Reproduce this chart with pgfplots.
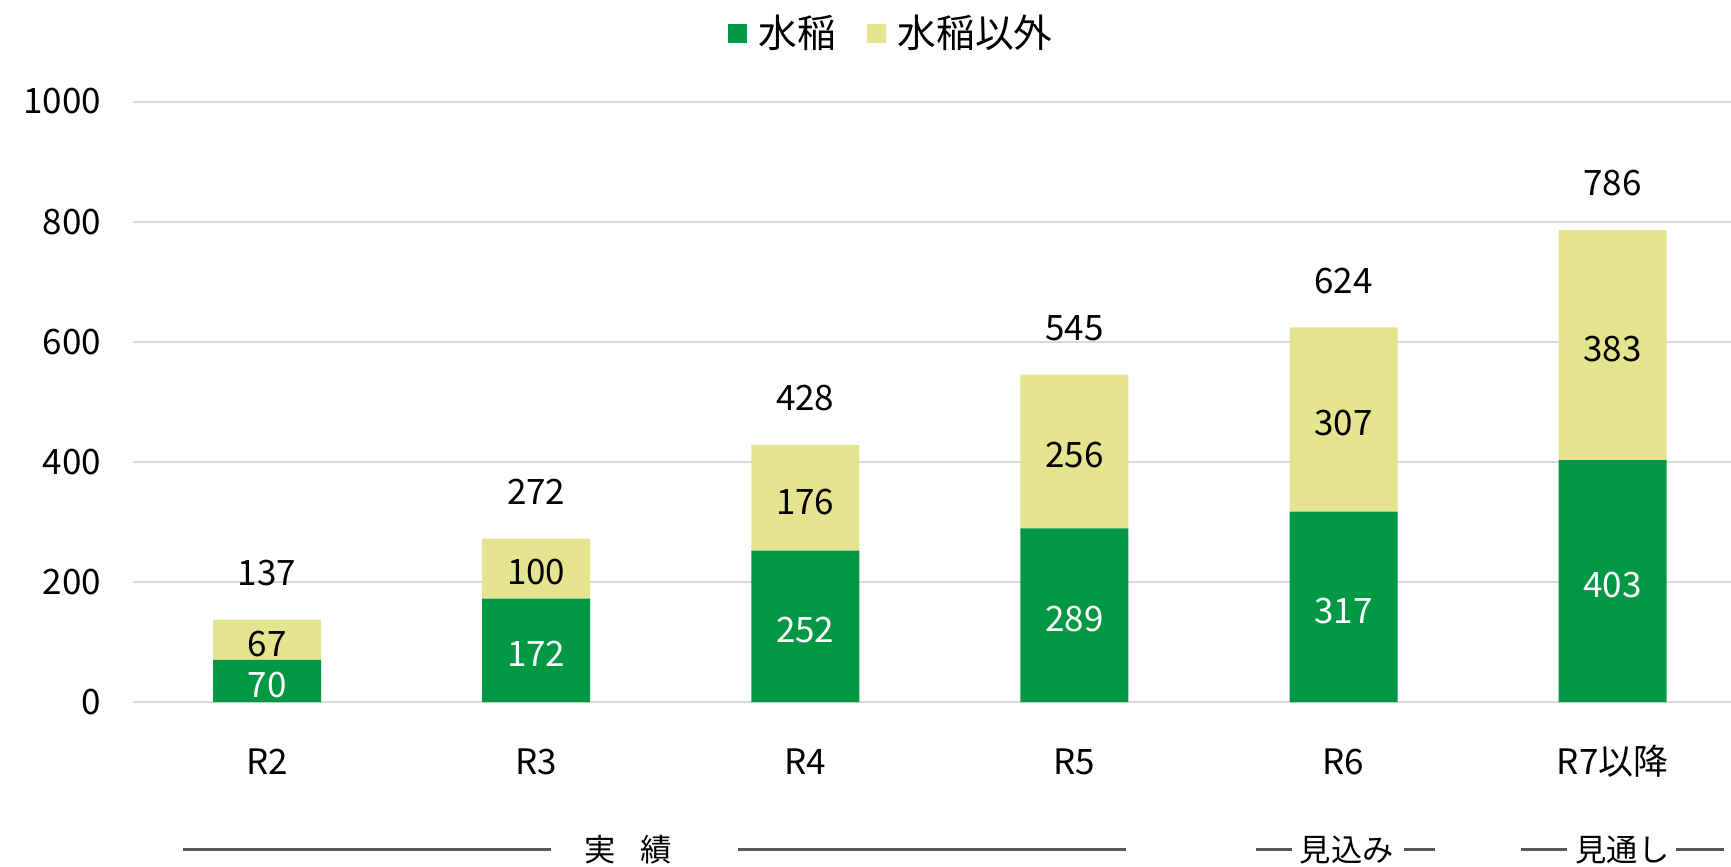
\documentclass[border=0pt]{standalone}
\usepackage{fontspec}
\setmainfont{Noto Sans CJK JP}
\usepackage{pgfplots}
\usepackage{pgfplotstable}
\pgfplotsset{compat=1.18}
\usetikzlibrary{calc}

\definecolor{ine}{RGB}{0,152,68}
\definecolor{sonota}{RGB}{228,228,142}
\definecolor{gridgray}{RGB}{217,217,217}
\definecolor{senline}{RGB}{89,89,89}

% x: 年度, g: 水稲, o: 水稲以外, t: 合計
\pgfplotstableread{
x g o t
0 70 67 137
1 172 100 272
2 252 176 428
3 289 256 545
4 317 307 624
5 403 383 786
}\data

\pgfplotsset{
  samebox/.style={
    scale only axis,
    width=639.4pt, height=240.2pt,
    xmin=-0.5, xmax=5.44,
    ymin=0, ymax=1000,
    clip=false,
    /pgf/number format/assume math mode=true,
    /pgf/number format/1000 sep={},
  },
}

\begin{document}
\begin{tikzpicture}[font=\fontsize{14}{17}\selectfont]
\begin{axis}[
  samebox,
  name=ax,
  ybar stacked,
  bar width=43.2pt,
  ytick={0,200,...,1000},
  xtick={0,...,5},
  xticklabels={R2,R3,R4,R5,R6,R7以降},
  axis line style={draw=none},
  major tick length=0pt,
  ymajorgrids,
  grid style={gridgray, line width=0.8pt},
  yticklabel style={inner sep=0pt, xshift=-12.4pt},
  xticklabel style={anchor=base, inner sep=0pt, yshift=-29pt},
  legend image code/.code={\fill[#1] (0pt,-3.8pt) rectangle (7.6pt,3.8pt);},
  legend style={at={(0.4757,1)}, anchor=center, yshift=27.4pt, draw=none,
    fill=none, legend columns=-1, font=\fontsize{15.5}{18}\selectfont,
    /tikz/every odd column/.append style={column sep=2.5pt},
    /tikz/every even column/.append style={column sep=10.5pt}},
]
\addplot[fill=ine, draw=none] table[x=x, y=g] {\data};
\addplot[fill=sonota, draw=none] table[x=x, y=o] {\data};
\legend{水稲,水稲以外}
\end{axis}

% data labels
\begin{axis}[
  samebox,
  hide axis,
  nodes near coords,
  point meta=explicit,
  every node near coord/.append style={anchor=center, inner sep=0pt},
]
\addplot[only marks, mark=none,
  every node near coord/.append style={text=white, yshift=-1.5pt}]
  table[x=x, y expr=\thisrow{g}/2, meta=g] {\data};
\addplot[only marks, mark=none,
  every node near coord/.append style={text=black, yshift=-1.5pt}]
  table[x=x, y expr=\thisrow{g}+\thisrow{o}/2, meta=o] {\data};
\addplot[only marks, mark=none,
  every node near coord/.append style={text=black, yshift=18.7pt}]
  table[x=x, y=t, meta=t] {\data};
\end{axis}

% 実績 / 見込み / 見通し
\begin{scope}[shift={(ax.south west)}, senline, line width=1.1pt,
  font=\fontsize{12.5}{15}\selectfont]
\draw (20.3pt,-59pt) -- (167.2pt,-59pt);
\node[text=black] at (198.3pt,-59pt) {実\hspace{0.8em}績};
\draw (242.2pt,-59pt) -- (397.5pt,-59pt);
\draw (449.5pt,-59pt) -- (463.6pt,-59pt);
\node[text=black] at (485.7pt,-59pt) {見込み};
\draw (508.6pt,-59pt) -- (521.0pt,-59pt);
\draw (555.4pt,-59pt) -- (573.7pt,-59pt);
\node[text=black] at (596.0pt,-59pt) {見通し};
\draw (617.2pt,-59pt) -- (636.6pt,-59pt);
\end{scope}

\pgfresetboundingbox
\path[use as bounding box] ($(ax.south west)+(-53pt,-65.6pt)$) rectangle ($(ax.north east)+(0,40.6pt)$);
\end{tikzpicture}
\end{document}
